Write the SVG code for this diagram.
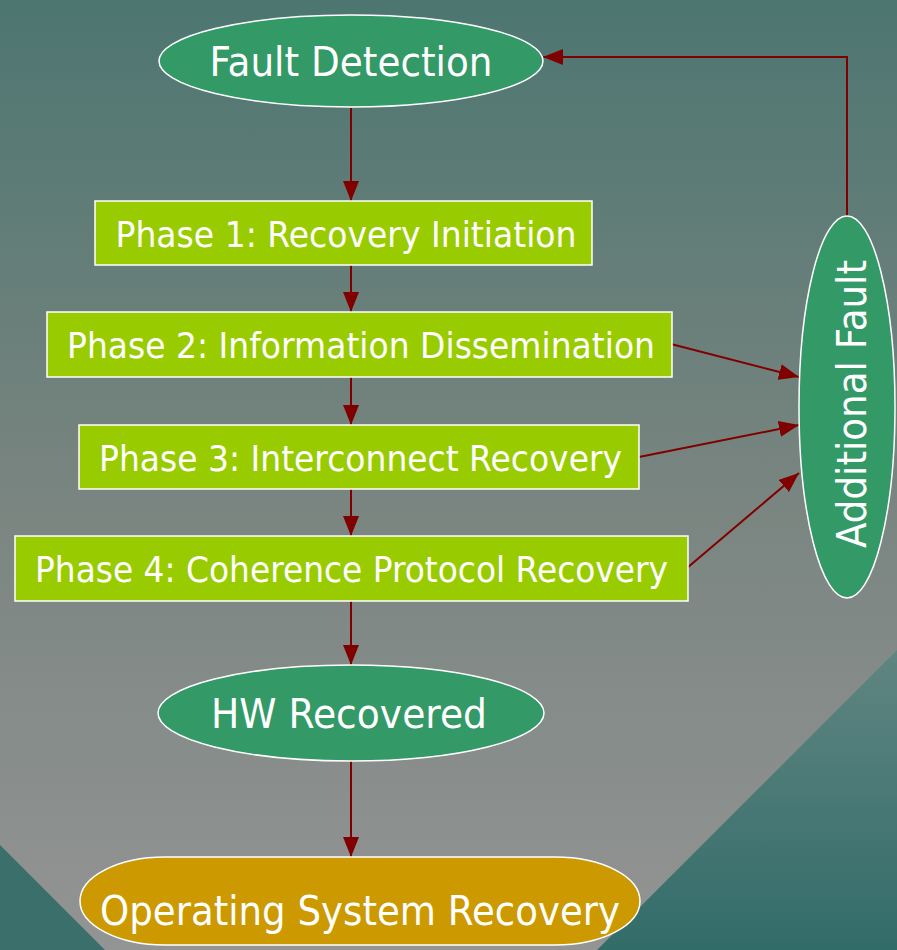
<svg xmlns="http://www.w3.org/2000/svg" width="897" height="950" viewBox="0 0 897 950">
  <defs>
    <linearGradient id="bg" x1="0" y1="0" x2="0" y2="1">
      <stop offset="0" stop-color="#4d7671"/>
      <stop offset="0.5" stop-color="#78847f"/>
      <stop offset="1" stop-color="#939494"/>
    </linearGradient>
    <linearGradient id="tealR" x1="0" y1="650" x2="0" y2="950" gradientUnits="userSpaceOnUse">
      <stop offset="0" stop-color="#608582"/>
      <stop offset="1" stop-color="#326c69"/>
    </linearGradient>
    <marker id="arrow" viewBox="0 0 10 8" refX="10" refY="4" markerWidth="10" markerHeight="8" markerUnits="strokeWidth" orient="auto">
      <path d="M0,0 L10,4 L0,8 Z" fill="#800000"/>
    </marker>
  </defs>
  <style>
    .ell { fill: #339966; stroke: #ffffff; stroke-width: 1.5; }
    .box { fill: #99cc00; stroke: #ffffff; stroke-width: 1.5; }
    .os { fill: #cc9900; stroke: #ffffff; stroke-width: 1.5; }
    .lbl { font-family: "DejaVu Sans", "Liberation Sans", sans-serif; fill: #ffffff; text-anchor: middle; }
    .big { font-size: 40px; }
    .mid { font-size: 35px; }
    .conn path { fill: none; stroke: #800000; stroke-width: 2; marker-end: url(#arrow); }
  </style>

  <!-- background -->
  <rect x="0" y="0" width="897" height="950" fill="url(#bg)"/>
  <polygon points="897,650 897,950 597,950" fill="url(#tealR)"/>
  <polygon points="0,845 105,950 0,950" fill="#3a6f6c"/>

  <!-- connectors -->
  <g id="connectors" class="conn">
    <path d="M351,108 V201"/>
    <path d="M351,265 V312"/>
    <path d="M351,377 V425"/>
    <path d="M351,489 V536"/>
    <path d="M351,601 V665"/>
    <path d="M351,761 V857"/>
    <path d="M671,344 L799,377"/>
    <path d="M639,457 L799,425"/>
    <path d="M687,568 L799,473"/>
    <path d="M847,217 V57 H543"/>
  </g>

  <g id="fault-detection">
    <ellipse class="ell" cx="351" cy="61" rx="192" ry="46"/>
    <text class="lbl big" x="351" y="76" textLength="283" lengthAdjust="spacingAndGlyphs">Fault Detection</text>
  </g>

  <g id="phase1">
    <rect class="box" x="95" y="201" width="497" height="64"/>
    <text class="lbl mid" x="346" y="246.5" textLength="461" lengthAdjust="spacingAndGlyphs">Phase 1: Recovery Initiation</text>
  </g>

  <g id="phase2">
    <rect class="box" x="47" y="312" width="625" height="65"/>
    <text class="lbl mid" x="361" y="358" textLength="588" lengthAdjust="spacingAndGlyphs">Phase 2: Information Dissemination</text>
  </g>

  <g id="phase3">
    <rect class="box" x="79" y="425" width="560" height="64"/>
    <text class="lbl mid" x="360.5" y="470.5" textLength="523" lengthAdjust="spacingAndGlyphs">Phase 3: Interconnect Recovery</text>
  </g>

  <g id="phase4">
    <rect class="box" x="15" y="536" width="673" height="65"/>
    <text class="lbl mid" x="351.5" y="582" textLength="633" lengthAdjust="spacingAndGlyphs">Phase 4: Coherence Protocol Recovery</text>
  </g>

  <g id="hw-recovered">
    <ellipse class="ell" cx="351" cy="713" rx="193" ry="48"/>
    <text class="lbl big" x="349" y="728" textLength="276" lengthAdjust="spacingAndGlyphs">HW Recovered</text>
  </g>

  <g id="os-recovery">
    <rect class="os" x="80" y="857" width="560" height="88" rx="85" ry="44"/>
    <text class="lbl big" x="360" y="925" textLength="520" lengthAdjust="spacingAndGlyphs">Operating System Recovery</text>
  </g>

  <g id="additional-fault">
    <ellipse class="ell" cx="847" cy="407" rx="48" ry="191"/>
    <text class="lbl big" transform="translate(866,404) rotate(-90)" x="0" y="0" textLength="288" lengthAdjust="spacingAndGlyphs">Additional Fault</text>
  </g>
</svg>
